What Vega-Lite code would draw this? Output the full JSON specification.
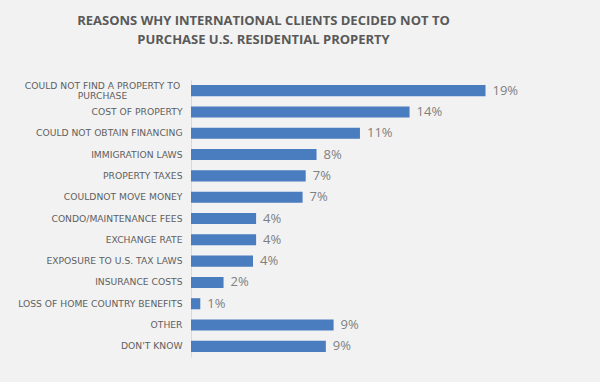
{
  "$schema": "https://vega.github.io/schema/vega-lite/v6.json",
  "width": 341,
  "height": 277,
  "autosize": {"type": "none"},
  "padding": {"left": 191, "top": 80, "right": 68, "bottom": 25},
  "background": "#f2f2f2",
  "title": {
    "text": ["REASONS WHY INTERNATIONAL CLIENTS DECIDED NOT TO", "PURCHASE U.S. RESIDENTIAL PROPERTY"],
    "font": "Open Sans",
    "fontSize": 13,
    "fontWeight": "bold",
    "color": "#595959",
    "anchor": "middle",
    "frame": "group",
    "dx": -98,
    "offset": 33,
    "lineHeight": 19
  },
  "data": {
    "values": [
      {"reason": "COULD NOT FIND A PROPERTY TO PURCHASE", "share": 0.19},
      {"reason": "COST OF PROPERTY", "share": 0.141},
      {"reason": "COULD NOT OBTAIN FINANCING", "share": 0.109},
      {"reason": "IMMIGRATION LAWS", "share": 0.081},
      {"reason": "PROPERTY TAXES", "share": 0.074},
      {"reason": "COULDNOT MOVE MONEY", "share": 0.072},
      {"reason": "CONDO/MAINTENANCE FEES", "share": 0.042},
      {"reason": "EXCHANGE RATE", "share": 0.042},
      {"reason": "EXPOSURE TO U.S. TAX LAWS", "share": 0.04},
      {"reason": "INSURANCE COSTS", "share": 0.021},
      {"reason": "LOSS OF HOME COUNTRY BENEFITS", "share": 0.006},
      {"reason": "OTHER", "share": 0.092},
      {"reason": "DON'T KNOW", "share": 0.087}
    ]
  },
  "encoding": {
    "y": {
      "field": "reason",
      "type": "nominal",
      "sort": null,
      "scale": {"paddingInner": 0.48, "paddingOuter": 0.24},
      "axis": {
        "title": null,
        "ticks": false,
        "domainColor": "#d9d9d9",
        "labelFont": "DejaVu Sans",
        "labelFontSize": 9.2,
        "labelColor": "#5f5f5f",
        "labelLimit": 300,
        "labelLineHeight": 10.5,
        "labelExpr": "datum.value == 'COULD NOT FIND A PROPERTY TO PURCHASE' ? ['COULD NOT FIND A PROPERTY TO', 'PURCHASE'] : datum.value",
        "labelAlign": {"condition": {"test": "datum.value == 'COULD NOT FIND A PROPERTY TO PURCHASE'", "value": "center"}, "value": "right"},
        "labelPadding": {"condition": {"test": "datum.value == 'COULD NOT FIND A PROPERTY TO PURCHASE'", "value": 89}, "value": 9},
        "labelOffset": {"condition": {"test": "datum.value == 'COULD NOT FIND A PROPERTY TO PURCHASE'", "value": -5}, "value": 0}
      }
    },
    "x": {
      "field": "share",
      "type": "quantitative",
      "scale": {"domain": [0, 0.22]},
      "axis": null
    }
  },
  "layer": [
    {"mark": {"type": "bar", "color": "#4a7dbf"}},
    {
      "mark": {"type": "text", "align": "left", "dx": 7, "font": "Open Sans", "fontSize": 13, "color": "#808080"},
      "encoding": {"text": {"field": "share", "format": ".0%"}}
    }
  ],
  "config": {"view": {"stroke": null}}
}
